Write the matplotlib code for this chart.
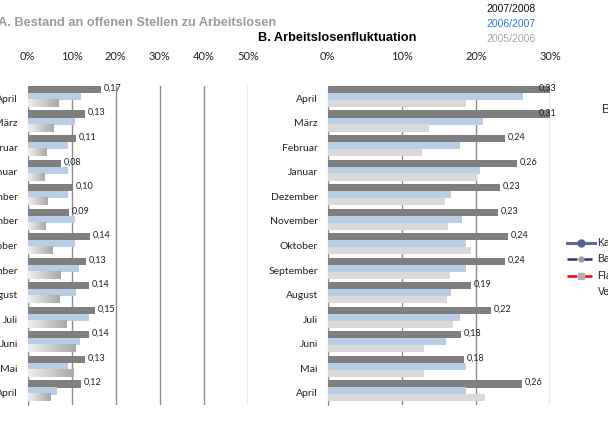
import numpy as np
import matplotlib.pyplot as plt
from matplotlib.lines import Line2D
from matplotlib.colors import LinearSegmentedColormap

months = ['April', 'März', 'Februar', 'Januar', 'Dezember', 'November', 'Oktober',
          'September', 'August', 'Juli', 'Juni', 'Mai', 'April']
years = ['2007/2008', '2006/2007', '2005/2006']

# A. Bestand an offenen Stellen zu Arbeitslosen
a_0708 = [0.167, 0.130, 0.110, 0.076, 0.102, 0.094, 0.142, 0.133, 0.140, 0.153, 0.140, 0.130, 0.121]
a_0607 = [0.121, 0.107, 0.092, 0.092, 0.092, 0.107, 0.107, 0.117, 0.110, 0.140, 0.119, 0.092, 0.067]
a_0506 = [0.069, 0.057, 0.042, 0.037, 0.044, 0.039, 0.055, 0.073, 0.071, 0.087, 0.107, 0.103, 0.051]

# B. Arbeitslosenfluktuation
b_0708 = [0.33, 0.31, 0.239, 0.256, 0.233, 0.23, 0.243, 0.239, 0.193, 0.22, 0.18, 0.184, 0.262]
b_0607 = [0.264, 0.209, 0.178, 0.206, 0.166, 0.181, 0.187, 0.186, 0.166, 0.178, 0.159, 0.187, 0.186]
b_0506 = [0.186, 0.137, 0.127, 0.202, 0.158, 0.162, 0.193, 0.165, 0.161, 0.169, 0.130, 0.130, 0.212]

plt.rcParams['font.family'] = 'Lato'
W, H = 608, 421


def px(x, y):
    return x / W, 1 - y / H


fig = plt.figure(figsize=(W / 100, H / 100), dpi=100)
axA = fig.add_axes([27.7 / W, 16 / H, 220.3 / W, 319 / H])
axB = fig.add_axes([327.7 / W, 16 / H, 222.3 / W, 319 / H])

grad = np.linspace(0, 1, 256).reshape(1, -1)
gcmap = LinearSegmentedColormap.from_list('g', ['#f0f0f0', '#a8a8a8'])


def panel(ax, v1, v2, v3, xmax, gradient):
    y = np.arange(len(months))
    h = 0.29
    ax.barh(y - 0.357, v1, height=h, color='#7f7f7f', zorder=3)
    ax.barh(y - 0.07, v2, height=h, color='#b9cde5', zorder=3)
    if gradient:
        for yc, v in zip(y + 0.21, v3):
            ax.imshow(grad, extent=[0, v, yc + h / 2, yc - h / 2], aspect='auto',
                      cmap=gcmap, zorder=3)
    else:
        ax.barh(y + 0.21, v3, height=h, color='#d9d9d9', zorder=3)
    for yc, v in zip(y - 0.357, v1):
        s = f'{v:.2f}'.replace('.', ',')
        if v > xmax:
            ax.text(xmax * 0.99, yc - 0.05, s, ha='center', va='center', fontsize=6.5, color='#222222')
        else:
            ax.annotate(s, (v, yc), xytext=(2, 1), textcoords='offset points',
                        ha='left', va='center', fontsize=6.5, color='#222222')
    ax.set_xlim(0, xmax)
    ax.set_ylim(len(months) - 0.5, -0.5)
    ticks = np.arange(0, xmax + 0.001, 0.1)
    ax.xaxis.tick_top()
    ax.set_xticks(ticks, [f'{int(round(t * 100))}%' for t in ticks])
    ax.set_yticks(y, months)
    ax.tick_params(axis='x', length=0, pad=17, labelsize=8, colors='#222222')
    ax.tick_params(axis='y', length=0, pad=7, labelsize=7.5, colors='#222222')
    ax.grid(axis='x', color='#8c8c8c', lw=1, zorder=0)
    ax.set_axisbelow(True)
    for s in ['top', 'right', 'bottom']:
        ax.spines[s].set_visible(False)
    ax.spines['left'].set_color('#8c8c8c')


panel(axA, a_0708, a_0607, a_0506, 0.5, True)
panel(axB, b_0708, b_0607, b_0506, 0.3, False)

fig.text(*px(-2, 23.3), 'A. Bestand an offenen Stellen zu Arbeitslosen', family='Liberation Sans',
         fontweight='bold', fontsize=9.2, color='#9a9a9a', ha='left', va='center')
fig.text(*px(258, 38.3), 'B. Arbeitslosenfluktuation', family='Liberation Sans',
         fontweight='bold', fontsize=9.2, color='black', ha='left', va='center')

for (yy, c), t in zip([(9.3, '#111111'), (24.3, '#2f79d4'), (39.3, '#a6a6a6')], years):
    fig.text(*px(486.5, yy), t, family='Liberation Sans', fontsize=7.5, color=c,
             ha='left', va='center')

# cut-off chart on the right edge
fig.text(*px(602, 110), 'B', family='Liberation Sans', fontsize=9, color='#333333', va='center')
fig.add_artist(Line2D([566.7 / W, 595 / W], [px(0, 242.7)[1]] * 2, color='#6767a0', lw=2.2))
fig.add_artist(Line2D([581 / W], [px(0, 242.7)[1]], marker='o', ms=5, color='#5a5a96'))
fig.add_artist(Line2D([566.7 / W, 595 / W], [px(0, 259)[1]] * 2, color='#2e2e8a', lw=1.8,
                      dashes=(4, 2)))
fig.add_artist(Line2D([581 / W], [px(0, 259)[1]], marker='o', ms=3.5, color='#9a9a9a'))
fig.add_artist(Line2D([566.7 / W, 595 / W], [px(0, 276)[1]] * 2, color='#ff0000', lw=1.8,
                      dashes=(4, 2)))
fig.add_artist(Line2D([581 / W], [px(0, 276)[1]], marker='s', ms=4, color='#b0b0b0'))
for yy, t in [(242.7, 'Ka'), (259, 'Ba'), (276, 'Fla'), (292, 'Ve')]:
    fig.text(*px(597 if t != 'Ve' else 598, yy), t, family='Liberation Sans', fontsize=7.5,
             color='#222222', va='center')

fig.savefig('out.png', dpi=100)
